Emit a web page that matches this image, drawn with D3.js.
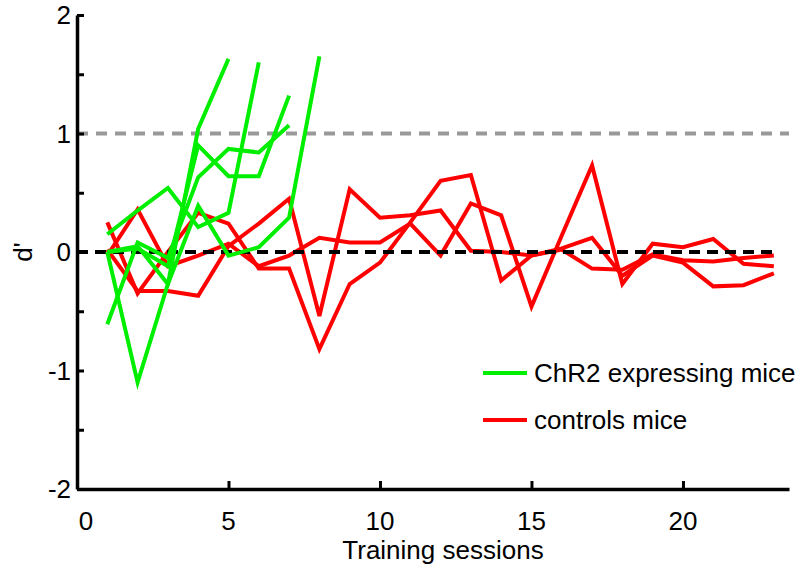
<!DOCTYPE html>
<html><head><meta charset="utf-8">
<script src="https://cdn.jsdelivr.net/npm/d3@7"></script>
<style>body{margin:0;background:#fff}text{font-family:"Liberation Sans",Arial,sans-serif}</style>
</head><body><svg id="c" width="803" height="567"></svg>
<script>
// sessions start at 1
const chr2Series = [
  [0.15, 0.35, 0.54, 0.21, 0.33, 1.60],
  [0.00, 0.05, -0.27, 0.39, -0.03, 0.04, 0.29, 1.65],
  [-0.61, 0.08, -0.05, 0.63, 0.87, 0.84, 1.07],
  [0.00, 0.03, -0.12, 0.90, 0.64, 0.64, 1.32],
  [0.00, -1.10, -0.27, 1.04, 1.63]
];
const controlSeries = [
  [0.25, -0.35, 0.00, 0.33, 0.24, -0.14, -0.14, -0.82, -0.27, -0.09, 0.25, 0.60, 0.65, -0.24, -0.03, 0.03, 0.12, -0.20, -0.03, -0.09, -0.29, -0.28, -0.18],
  [0.02, -0.33, -0.33, -0.37, 0.05, 0.24, 0.45, -0.54, 0.53, 0.29, 0.31, 0.35, 0.01, 0.00, -0.03, 0.02, -0.14, -0.15, -0.02, -0.07, -0.08, -0.05, -0.03],
  [-0.03, 0.36, -0.12, -0.03, 0.07, -0.12, -0.03, 0.12, 0.08, 0.08, 0.24, -0.03, 0.41, 0.31, -0.46, 0.14, 0.73, -0.27, 0.07, 0.04, 0.11, -0.10, -0.12]
];
const xTicks = [0, 5, 10, 15, 20];
const yTicks = [-2, -1, 0, 1, 2];
const yMinorTicks = [-2, -1.5, -1, -0.5, 0, 0.5, 1, 1.5, 2];
const legendLabels = ["ChR2 expressing mice", "controls mice"];
const xLabel = "Training sessions";
const yLabel = "d'";

const svg = d3.select("#c");
const x = d3.scaleLinear().domain([0, 23.5]).range([77, 789]);
const y = d3.scaleLinear().domain([-2, 2]).range([489, 15]);
const green = "#00ee00", red = "#ff0000";
const line = d3.line().x((d, i) => x(i + 1)).y(d => y(d));

// red lines
svg.append("g").selectAll("path").data(controlSeries).join("path")
  .attr("d", line).attr("fill", "none").attr("stroke", red)
  .attr("stroke-width", 4).attr("stroke-linejoin", "miter");

// reference lines
svg.append("line").attr("x1", x(0)).attr("x2", x(23.5)).attr("y1", y(1)).attr("y2", y(1))
  .attr("stroke", "#999999").attr("stroke-width", 4).attr("stroke-dasharray", "11,8");
svg.append("line").attr("x1", x(0)).attr("x2", x(23)).attr("y1", y(0)).attr("y2", y(0))
  .attr("stroke", "#000").attr("stroke-width", 4).attr("stroke-dasharray", "11,7");

// green lines
svg.append("g").selectAll("path").data(chr2Series).join("path")
  .attr("d", line).attr("fill", "none").attr("stroke", green)
  .attr("stroke-width", 4).attr("stroke-linejoin", "miter");

// axes
const ax = svg.append("g").attr("transform", `translate(0,${y(-2)})`)
  .call(d3.axisBottom(x).tickValues(xTicks.filter(d => d > 0)).tickSizeInner(-8).tickSizeOuter(0).tickFormat(""));
ax.select(".domain").attr("stroke", "#000").attr("stroke-width", 3.5);
ax.selectAll(".tick line").attr("stroke-width", 3);
const ay = svg.append("g").attr("transform", `translate(${x(0)},0)`)
  .call(d3.axisLeft(y).tickValues(yMinorTicks).tickSizeInner(-7).tickSizeOuter(0).tickFormat(""));
ay.select(".domain").attr("stroke", "#000").attr("stroke-width", 3.5);
ay.selectAll(".tick line").attr("stroke-width", 3);

// tick labels
svg.append("g").selectAll("text").data(xTicks).join("text")
  .attr("x", d => x(d) + (d === 0 ? 9 : 0)).attr("y", 530)
  .attr("text-anchor", "middle").attr("font-size", 26).text(d => d);
svg.append("g").selectAll("text").data(yTicks).join("text")
  .attr("x", 71).attr("y", d => y(d) + 9)
  .attr("text-anchor", "end").attr("font-size", 26).text(d => d);

// axis titles
svg.append("text").attr("x", 443).attr("y", 559).attr("text-anchor", "middle")
  .attr("font-size", 26).text(xLabel);
svg.append("text").attr("transform", `translate(32,${y(0)}) rotate(-90)`)
  .attr("text-anchor", "middle").attr("font-size", 26).text(yLabel);

// legend
const lg = svg.append("g");
[green, red].forEach((c, i) => {
  const yy = 373 + i * 47;
  lg.append("line").attr("x1", 483).attr("x2", 527).attr("y1", yy).attr("y2", yy)
    .attr("stroke", c).attr("stroke-width", 4);
  lg.append("text").attr("x", 534).attr("y", yy + 9).attr("font-size", 26).text(legendLabels[i]);
});
</script></body></html>
